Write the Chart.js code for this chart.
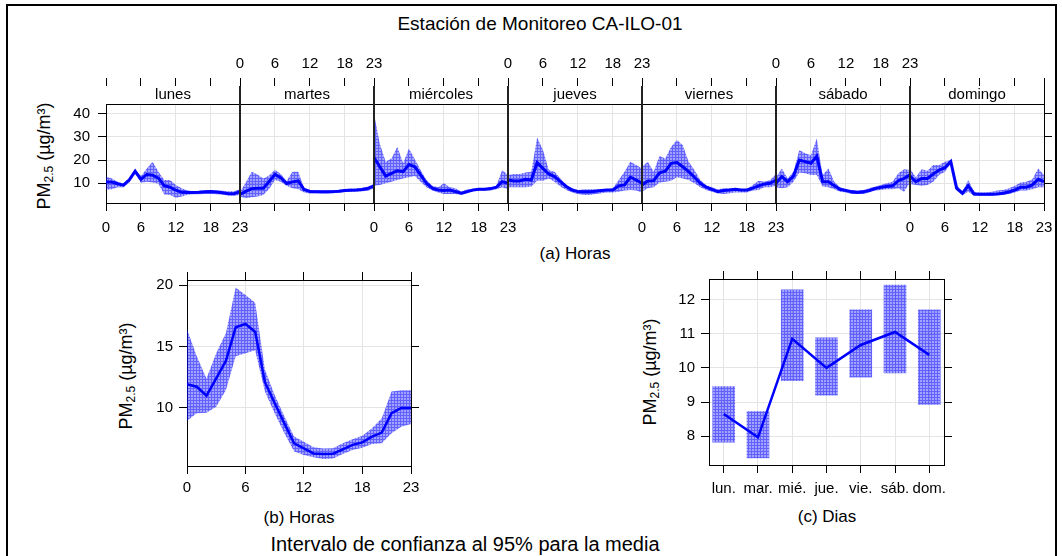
<!DOCTYPE html>
<html>
<head>
<meta charset="utf-8">
<script src="https://cdn.jsdelivr.net/npm/chart.js@4"></script>
<style>
body { margin: 0; background: #fff; font-family: 'Liberation Sans', Arial, sans-serif; }
#page { position: relative; width: 1062px; height: 556px; overflow: hidden; }
#frame { position: absolute; left: 6px; top: 4px; width: 1047px; height: 600px; border: 2px solid #000; }
canvas { position: absolute; }
.txt { position: absolute; white-space: nowrap; color: #000; transform: translate(-50%, -50%); }
.ylab { position: absolute; white-space: nowrap; color: #000; font-size: 18px; transform: translate(-50%, -50%) rotate(-90deg); }
.ylab sub { font-size: 12px; vertical-align: -3px; }
</style>
</head>
<body>
<div id="page">
  <div id="frame"></div>
  <div class="txt" style="left:540px;top:24px;font-size:19px">Estación de Monitoreo CA-ILO-01</div>
  <div class="ylab" style="left:45px;top:156px">PM<sub>2.5</sub> (µg/m³)</div>
  <div class="txt" style="left:575px;top:254px;font-size:17px">(a) Horas</div>
  <div class="ylab" style="left:127px;top:376px">PM<sub>2.5</sub> (µg/m³)</div>
  <div class="txt" style="left:299px;top:518px;font-size:17px">(b) Horas</div>
  <div class="ylab" style="left:651px;top:372px">PM<sub>2.5</sub> (µg/m³)</div>
  <div class="txt" style="left:827px;top:517px;font-size:17px">(c) Dias</div>
  <div class="txt" style="left:465px;top:544px;font-size:20px">Intervalo de confianza al 95% para la media</div>
  <canvas id="weekChart" width="1062" height="210" style="left:0;top:40px"></canvas>
  <canvas id="hourChart" width="340" height="245" style="left:100px;top:262px"></canvas>
  <canvas id="dayChart" width="330" height="245" style="left:640px;top:262px"></canvas>
</div>
<script>
// tick labels / categories
const dayNames = ['lunes', 'martes', 'miércoles', 'jueves', 'viernes', 'sábado', 'domingo'];
const dayShort = ['lun.', 'mar.', 'mié.', 'jue.', 'vie.', 'sáb.', 'dom.'];
const hourTicks = [0, 6, 12, 18, 23];

// (a) hour of day, per weekday: mean and 95% interval
const lunMean = [10.5, 10.5, 9.8, 9.2, 11.5, 15.2, 11.7, 13.8, 13.5, 12.2, 9.0, 8.3, 7.0, 6.1, 6.0, 6.0, 6.1, 6.3, 6.4, 6.2, 5.9, 5.5, 5.5, 6.4];
const lunHi = [12.9, 12.1, 10.7, 9.9, 12.1, 15.7, 13.1, 16.4, 19.3, 15.0, 11.4, 11.4, 9.3, 7.9, 6.9, 6.6, 6.8, 6.9, 6.9, 6.9, 6.8, 6.6, 6.6, 7.4];
const lunLo = [7.2, 7.4, 8.3, 8.3, 10.3, 14.0, 10.2, 10.7, 10.3, 9.8, 5.2, 5.0, 3.8, 4.3, 5.1, 5.3, 5.3, 5.4, 5.4, 5.3, 5.1, 4.7, 4.6, 5.0];

const marMean = [5.2, 6.5, 7.7, 7.9, 7.9, 10.8, 13.8, 12.4, 9.9, 10.6, 11.0, 7.3, 6.5, 6.4, 6.3, 6.3, 6.4, 6.6, 6.9, 7.0, 7.1, 7.3, 7.8, 8.9];
const marHi = [6.4, 10.3, 15.0, 13.8, 12.1, 13.4, 15.8, 14.0, 11.0, 15.0, 15.0, 8.0, 7.1, 7.0, 6.9, 6.9, 7.0, 7.2, 7.5, 7.7, 7.8, 8.1, 8.6, 9.7];
const marLo = [4.3, 3.6, 4.0, 4.3, 5.0, 7.5, 11.4, 10.7, 8.9, 7.9, 7.4, 6.0, 5.6, 5.6, 5.6, 5.6, 5.7, 5.9, 6.2, 6.3, 6.4, 6.6, 6.8, 7.9];

const mieMean = [21.1, 17.1, 13.1, 14.3, 15.4, 15.0, 18.1, 17.1, 13.6, 10.0, 7.9, 7.1, 6.9, 7.1, 6.4, 5.7, 6.4, 7.1, 7.4, 7.4, 7.7, 8.3, 10.7, 10.0];
const mieHi = [40.0, 27.0, 19.3, 20.7, 25.7, 18.6, 25.0, 20.3, 15.7, 11.4, 8.9, 8.3, 10.0, 8.3, 7.9, 6.4, 7.4, 7.4, 7.4, 7.4, 7.6, 8.9, 15.7, 13.6];
const mieLo = [8.9, 9.3, 10.0, 10.7, 11.4, 12.1, 12.6, 13.1, 10.7, 8.3, 6.9, 6.0, 5.4, 5.4, 5.4, 5.0, 5.7, 6.9, 6.9, 6.9, 6.9, 7.4, 8.3, 7.4];

const jueMean = [11.4, 11.0, 11.0, 11.7, 11.4, 18.9, 16.4, 14.0, 12.9, 10.7, 8.6, 7.1, 6.4, 6.3, 6.3, 6.6, 6.9, 7.1, 7.1, 8.9, 9.3, 12.6, 11.4, 10.0];
const jueHi = [13.6, 14.0, 14.0, 14.6, 15.0, 29.7, 24.3, 15.7, 15.0, 12.1, 9.3, 7.9, 7.1, 7.4, 7.4, 7.4, 7.4, 7.4, 7.9, 11.4, 15.0, 19.3, 17.9, 16.4];
const jueLo = [8.3, 8.3, 8.3, 8.3, 8.6, 11.1, 11.1, 12.1, 10.7, 8.6, 7.1, 6.0, 5.4, 5.0, 5.0, 5.4, 5.7, 6.0, 6.0, 6.4, 6.9, 7.1, 6.9, 6.0];

const vieMean = [9.3, 11.0, 11.1, 14.5, 15.2, 18.6, 18.9, 17.1, 15.0, 12.6, 10.0, 8.3, 7.4, 6.4, 6.9, 7.1, 7.4, 7.1, 7.1, 7.9, 8.9, 9.7, 10.0, 11.4];
const vieHi = [17.1, 19.3, 15.0, 21.7, 20.7, 25.7, 28.6, 26.4, 19.3, 15.7, 11.4, 9.3, 8.3, 7.4, 7.9, 7.9, 7.9, 7.4, 7.4, 9.3, 11.1, 10.7, 11.4, 14.0];
const vieLo = [6.4, 7.9, 8.3, 10.3, 10.7, 11.1, 12.6, 12.1, 11.4, 10.0, 8.3, 7.1, 6.4, 5.7, 5.4, 5.7, 6.0, 6.0, 6.0, 6.9, 7.1, 8.3, 8.3, 8.9];

const sabMean = [10.0, 12.9, 10.7, 13.1, 20.0, 19.3, 18.6, 21.7, 10.7, 10.7, 8.9, 7.4, 6.9, 6.3, 6.0, 6.3, 6.9, 7.7, 8.3, 8.6, 8.9, 11.1, 12.1, 13.6];
const sabHi = [12.6, 16.4, 12.1, 15.0, 24.3, 22.9, 22.1, 29.3, 13.6, 16.4, 10.7, 8.3, 7.4, 7.1, 6.9, 7.1, 7.9, 8.6, 9.3, 10.0, 10.7, 14.3, 16.0, 15.7];
const sabLo = [8.3, 7.9, 8.3, 10.7, 14.6, 14.3, 13.6, 13.6, 8.6, 8.3, 7.4, 6.4, 6.0, 5.4, 5.4, 5.4, 6.0, 6.9, 7.1, 7.4, 7.4, 7.9, 6.4, 10.3];

const domMean = [13.1, 10.7, 12.1, 12.1, 14.0, 15.7, 16.7, 19.3, 7.9, 5.7, 8.9, 5.4, 5.3, 5.3, 5.3, 5.4, 5.7, 6.3, 7.1, 8.3, 8.3, 9.3, 11.7, 10.7];
const domHi = [16.4, 12.6, 16.0, 15.4, 17.9, 17.9, 19.3, 20.0, 9.3, 6.4, 11.4, 6.4, 6.0, 6.0, 6.4, 6.9, 7.1, 7.9, 8.9, 10.3, 10.7, 11.7, 16.4, 13.6];
const domLo = [9.7, 9.3, 8.9, 9.3, 10.7, 13.6, 15.0, 18.6, 6.9, 5.0, 6.4, 4.6, 4.6, 4.6, 4.6, 4.9, 5.0, 5.4, 6.0, 6.9, 6.9, 7.4, 8.3, 8.3];

// (b) hour of day, all days
const hourMean = [11.93, 11.73, 11.0, 12.4, 13.85, 16.56, 16.83, 16.2, 12.1, 10.4, 8.75, 7.13, 6.72, 6.3, 6.26, 6.28, 6.64, 7.0, 7.2, 7.67, 8.0, 9.57, 10.0, 10.0];
const hourHi = [16.4, 14.2, 12.4, 14.45, 16.1, 19.8, 19.2, 18.56, 13.1, 11.05, 9.3, 7.67, 7.26, 6.8, 6.7, 6.72, 7.13, 7.45, 7.75, 8.35, 9.16, 11.33, 11.45, 11.45];
const hourLo = [8.97, 9.57, 9.62, 10.1, 11.46, 14.2, 14.45, 14.7, 11.33, 9.57, 7.94, 6.45, 6.18, 5.99, 5.85, 5.9, 6.26, 6.59, 6.77, 7.07, 7.13, 7.94, 8.48, 8.7];

// (c) day of week
const dayMean = [8.65, 7.97, 10.85, 10.0, 10.67, 11.05, 10.38];
const dayLo = [7.83, 7.37, 9.63, 9.2, 9.73, 9.85, 8.93];
const dayHi = [9.45, 8.72, 12.28, 10.88, 11.7, 12.42, 11.7];

const weekMean = [lunMean, marMean, mieMean, jueMean, vieMean, sabMean, domMean];
const weekHi = [lunHi, marHi, mieHi, jueHi, vieHi, sabHi, domHi];
const weekLo = [lunLo, marLo, mieLo, jueLo, vieLo, sabLo, domLo];

Chart.defaults.font.family = "'Liberation Sans', Arial, sans-serif";
Chart.defaults.font.size = 15;
Chart.defaults.color = '#000';
Chart.defaults.animation = false;
Chart.defaults.plugins.legend.display = false;
Chart.defaults.plugins.tooltip.enabled = false;

const BLUE = '#0000ff';
const GRID = '#e4e4e4';

// cross-hatched fill used for the confidence bands
function hatch(ctx) {
    const c = document.createElement('canvas');
    c.width = 3;
    c.height = 3;
    const g = c.getContext('2d');
    g.fillStyle = 'rgba(0, 0, 255, 0.36)';
    g.fillRect(0, 0, 3, 3);
    g.fillStyle = 'rgba(0, 0, 255, 0.4)';
    g.fillRect(0, 0, 3, 1);
    g.fillRect(0, 1, 1, 2);
    return ctx.createPattern(c, 'repeat');
}

function fixedTicks(list) {
    return s => { s.ticks = list.map(v => ({ value: v })); };
}

function axis(extra) {
    const a = {
        type: 'linear',
        grid: { color: GRID, tickColor: '#000', tickLength: 8, offset: false },
        border: { color: '#000', width: 1 },
        ticks: { autoSkip: false, maxRotation: 0, padding: 5 }
    };
    Object.keys(extra).forEach(k => {
        if (typeof extra[k] === 'object' && !Array.isArray(extra[k]) && a[k]) {
            a[k] = Object.assign({}, a[k], extra[k]);
        } else {
            a[k] = extra[k];
        }
    });
    return a;
}

// ---------- (a) week panels ----------
const weekTicks = [];
for (let d = 0; d < 7; d++) {
    [0, 6, 12, 18].forEach(h => weekTicks.push(d * 23 + h));
}
weekTicks.push(161);

function panelLabel(v, side) {
    const d = Math.floor(v / 23 + 1e-9);
    const h = Math.round(v - d * 23);
    if (d === 7) return side === 'bottom' ? '23' : '';
    const own = side === 'bottom' ? d % 2 === 0 : d % 2 === 1;
    if (own) return String(h);
    if (h === 0 && d > 0) return '23';
    return '';
}

const stripPlugin = {
    id: 'strips',
    afterDatasetsDraw(chart) {
        const { ctx, chartArea } = chart;
        const x = chart.scales.x;
        const top = chartArea.top, bot = top + 18;
        ctx.save();
        ctx.fillStyle = '#fff';
        ctx.fillRect(chartArea.left, top, chartArea.right - chartArea.left, 18);
        ctx.strokeStyle = '#000';
        ctx.lineWidth = 1;
        ctx.beginPath();
        ctx.moveTo(chartArea.left, bot + 0.5);
        ctx.lineTo(chartArea.right, bot + 0.5);
        ctx.stroke();
        ctx.fillStyle = '#000';
        ctx.font = "15px 'Liberation Sans', Arial, sans-serif";
        ctx.textAlign = 'center';
        ctx.textBaseline = 'middle';
        dayNames.forEach((name, d) => {
            ctx.fillText(name, x.getPixelForValue(d * 23 + 11.5), top + 9);
        });
        ctx.strokeStyle = '#222';
        ctx.lineWidth = 2;
        for (let d = 1; d < 7; d++) {
            const px = Math.round(x.getPixelForValue(d * 23));
            ctx.beginPath();
            ctx.moveTo(px, top);
            ctx.lineTo(px, chartArea.bottom);
            ctx.stroke();
        }
        ctx.restore();
    }
};

const weekCtx = document.getElementById('weekChart').getContext('2d');
const weekPattern = hatch(weekCtx);
const weekSets = [];
weekMean.forEach((m, d) => {
    const pts = arr => arr.map((v, h) => ({ x: d * 23 + h, y: v }));
    weekSets.push({ data: pts(weekHi[d]), fill: '+1', backgroundColor: weekPattern, borderWidth: 0, pointRadius: 0 });
    weekSets.push({ data: pts(weekLo[d]), fill: false, borderWidth: 0, pointRadius: 0 });
    weekSets.push({ data: pts(m), fill: false, borderColor: BLUE, borderWidth: 3, pointRadius: 0 });
});

new Chart(weekCtx, {
    type: 'line',
    data: { datasets: weekSets },
    options: {
        responsive: false,
        layout: { padding: 0 },
        scales: {
            x: axis({ position: 'bottom', min: 0, max: 161,
                afterBuildTicks: fixedTicks(weekTicks), afterFit: s => { s.height = 47; },
                ticks: { padding: 8, callback: v => panelLabel(v, 'bottom') } }),
            xt: axis({ position: 'top', min: 0, max: 161,
                afterBuildTicks: fixedTicks(weekTicks), afterFit: s => { s.height = 46; },
                grid: { drawOnChartArea: false },
                ticks: { callback: v => panelLabel(v, 'top') } }),
            y: axis({ position: 'left', min: 1.5, max: 51.9,
                afterBuildTicks: fixedTicks([10, 20, 30, 40]), afterFit: s => { s.width = 106; },
                ticks: { padding: 8 } }),
            yr: axis({ position: 'right', min: 1.5, max: 51.9,
                afterBuildTicks: fixedTicks([10, 20, 30, 40]), afterFit: s => { s.width = 18; },
                grid: { drawOnChartArea: false },
                ticks: { callback: () => '' } })
        }
    },
    plugins: [stripPlugin]
});

// ---------- (b) hours ----------
const hourCtx = document.getElementById('hourChart').getContext('2d');
const hourPts = arr => arr.map((v, h) => ({ x: h, y: v }));
new Chart(hourCtx, {
    type: 'line',
    data: {
        datasets: [
            { data: hourPts(hourHi), fill: '+1', backgroundColor: hatch(hourCtx), borderWidth: 0, pointRadius: 0 },
            { data: hourPts(hourLo), fill: false, borderWidth: 0, pointRadius: 0 },
            { data: hourPts(hourMean), fill: false, borderColor: BLUE, borderWidth: 2.5, pointRadius: 0 }
        ]
    },
    options: {
        responsive: false,
        layout: { padding: 0 },
        scales: {
            x: axis({ position: 'bottom', min: 0, max: 23,
                afterBuildTicks: fixedTicks(hourTicks), afterFit: s => { s.height = 41; } }),
            xt: axis({ position: 'top', min: 0, max: 23,
                afterBuildTicks: fixedTicks(hourTicks), afterFit: s => { s.height = 18; },
                grid: { drawOnChartArea: false }, ticks: { callback: () => '' } }),
            y: axis({ position: 'left', min: 5.28, max: 20.41,
                afterBuildTicks: fixedTicks([10, 15, 20]), afterFit: s => { s.width = 87; },
                ticks: { padding: 6 } }),
            yr: axis({ position: 'right', min: 5.28, max: 20.41,
                afterBuildTicks: fixedTicks([10, 15, 20]), afterFit: s => { s.width = 29; },
                grid: { drawOnChartArea: false }, ticks: { callback: () => '' } })
        }
    }
});

// ---------- (c) days ----------
const dayCtx = document.getElementById('dayChart').getContext('2d');
const dayIdx = dayShort.map((n, i) => i);
new Chart(dayCtx, {
    type: 'bar',
    data: {
        datasets: [
            { type: 'line', order: 0, data: dayMean.map((v, i) => ({ x: i, y: v })),
              borderColor: BLUE, borderWidth: 2.5, pointRadius: 0, fill: false },
            { type: 'bar', order: 1, data: dayLo.map((lo, i) => ({ x: i, y: [lo, dayHi[i]] })),
              backgroundColor: hatch(dayCtx), borderWidth: 0, barThickness: 22 }
        ]
    },
    options: {
        responsive: false,
        layout: { padding: 0 },
        scales: {
            x: axis({ position: 'bottom', min: -0.43, max: 6.43, offset: false,
                afterBuildTicks: fixedTicks(dayIdx), afterFit: s => { s.height = 42; },
                ticks: { padding: 7, callback: v => dayShort[v] } }),
            xt: axis({ position: 'top', min: -0.43, max: 6.43, offset: false,
                afterBuildTicks: fixedTicks(dayIdx), afterFit: s => { s.height = 17; },
                grid: { drawOnChartArea: false }, ticks: { callback: () => '' } }),
            y: axis({ position: 'left', min: 7.16, max: 12.6,
                afterBuildTicks: fixedTicks([8, 9, 10, 11, 12]), afterFit: s => { s.width = 69; },
                ticks: { padding: 6 } }),
            yr: axis({ position: 'right', min: 7.16, max: 12.6,
                afterBuildTicks: fixedTicks([8, 9, 10, 11, 12]), afterFit: s => { s.width = 26; },
                grid: { drawOnChartArea: false }, ticks: { callback: () => '' } })
        }
    }
});
</script>
</body>
</html>
